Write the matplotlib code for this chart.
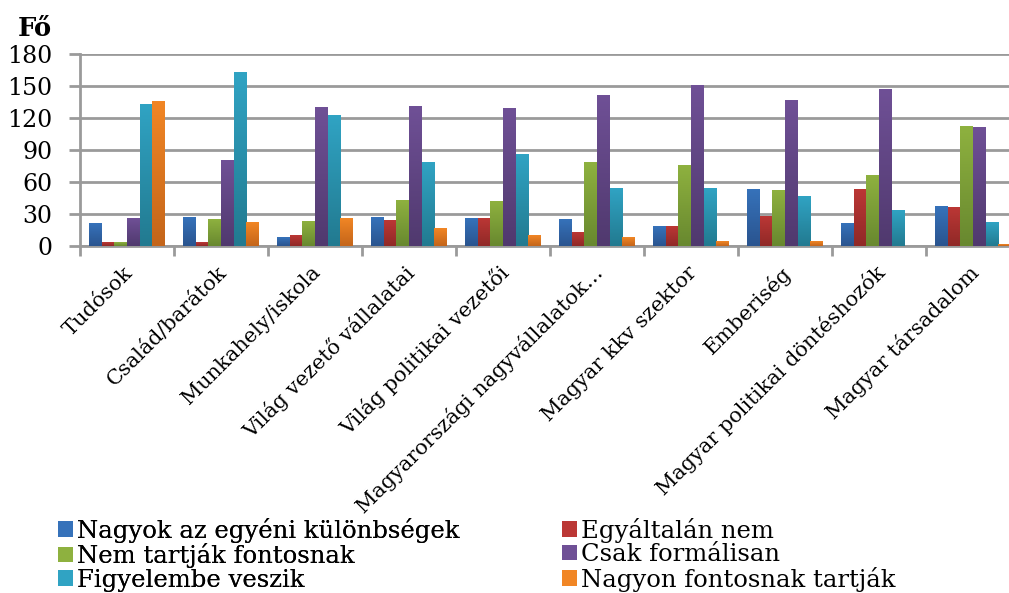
import numpy as np
import matplotlib
matplotlib.use("Agg")
import matplotlib.pyplot as plt
from matplotlib.colors import LinearSegmentedColormap

plt.rcParams['font.family'] = ['DejaVu Serif']

categories = ["Tudósok", "Család/barátok", "Munkahely/iskola", "Világ vezető vállalatai",
              "Világ politikai vezetői", "Magyarországi nagyvállalatok…", "Magyar kkv szektor",
              "Emberiség", "Magyar politikai döntéshozók", "Magyar társadalom"]

series_names = ["Nagyok az egyéni különbségek", "Egyáltalán nem", "Nem tartják fontosnak",
                "Csak formálisan", "Figyelembe veszik", "Nagyon fontosnak tartják"]

nagyok = [21, 27, 8, 27, 26, 25, 18, 53, 21, 37]
egyaltalan = [3, 3, 10, 24, 26, 13, 18, 28, 53, 36]
nem_tartjak = [3, 25, 23, 43, 42, 78, 75, 52, 66, 112]
formalisan = [26, 80, 130, 131, 129, 141, 150, 136, 147, 111]
figyelembe = [133, 163, 122, 78, 86, 54, 54, 46, 33, 22]
nagyon = [135, 22, 26, 16, 10, 8, 4, 4, 0, 1]

y_ticks = [0, 30, 60, 90, 120, 150, 180]

# (top, bottom) of each bar's gradient
colors = [('#3672BA', '#2A548F'), ('#BB3735', '#902927'), ('#8EB13F', '#68882F'),
          ('#6F5096', '#50396E'), ('#30A3C3', '#227A90'), ('#F18625', '#C4651A')]

data = [nagyok, egyaltalan, nem_tartjak, formalisan, figyelembe, nagyon]

fig = plt.figure(figsize=(10.09, 5.93), dpi=100)
# axes run a bit past the right edge, like the cropped original
ax = fig.add_axes([80 / 1009, 1 - 246 / 593, 940 / 1009, 192 / 593])
ax.set_xlim(-0.5, len(categories) - 0.5)
ax.set_ylim(0, 180)

x = np.arange(len(categories))
bw = 0.135
grad = np.linspace(1, 0, 64).reshape(-1, 1)
for i, (vals, (ctop, cbot)) in enumerate(zip(data, colors)):
    cmap = LinearSegmentedColormap.from_list('g%d' % i, [cbot, ctop])
    bars = ax.bar(x - 2.5 * bw + i * bw, vals, width=bw, color=ctop,
                  label=series_names[i], zorder=3, linewidth=0)
    for b in bars:
        h = b.get_height()
        if h <= 0:
            continue
        x0 = b.get_x()
        ax.imshow(grad, cmap=cmap, aspect='auto', extent=(x0, x0 + bw, 0, h),
                  zorder=3.5, vmin=0, vmax=1)

ax.set_xlim(-0.5, len(categories) - 0.5)
ax.set_ylim(0, 180)
ax.set_yticks(y_ticks)
ax.set_yticklabels([str(v) for v in y_ticks], fontsize=17)
ax.yaxis.grid(True, color='#9a9a9a', linewidth=2, zorder=0)
ax.tick_params(axis='y', length=8, width=2, color='#9a9a9a', pad=12)

ax.set_xticks(np.arange(len(categories) + 1) - 0.5, minor=False)
ax.set_xticklabels([])
ax.tick_params(axis='x', length=7, width=2, color='#9a9a9a')
for xi, lab in zip(x, categories):
    ax.annotate(lab, xy=(xi, 0), xycoords=('data', 'axes fraction'),
                xytext=(2, -17), textcoords='offset points',
                rotation=45, rotation_mode='anchor', ha='right', va='center',
                fontsize=15)

for s in ['top', 'right']:
    ax.spines[s].set_visible(False)
ax.spines['left'].set_color('#9a9a9a')
ax.spines['left'].set_linewidth(2)
ax.spines['bottom'].set_color('#9a9a9a')
ax.spines['bottom'].set_linewidth(2)

fig.text(18 / 1009, 1 - 28 / 593, "Fő", fontsize=18.5, fontweight='bold', va='center')

handles, labels = ax.get_legend_handles_labels()
leg_kw = dict(loc='lower left', frameon=False, fontsize=17.5, handlelength=0.62,
              handleheight=0.62, handletextpad=0.15, labelspacing=0.02, borderpad=0)
leg1 = fig.legend([handles[k] for k in (0, 2, 4)], [labels[k] for k in (0, 2, 4)],
                  bbox_to_anchor=(46 / 1009, -0.018), **leg_kw)
fig.add_artist(leg1)
fig.legend([handles[k] for k in (1, 3, 5)], [labels[k] for k in (1, 3, 5)],
           bbox_to_anchor=(550 / 1009, -0.018), **leg_kw)

fig.savefig("out.png", dpi=100)
